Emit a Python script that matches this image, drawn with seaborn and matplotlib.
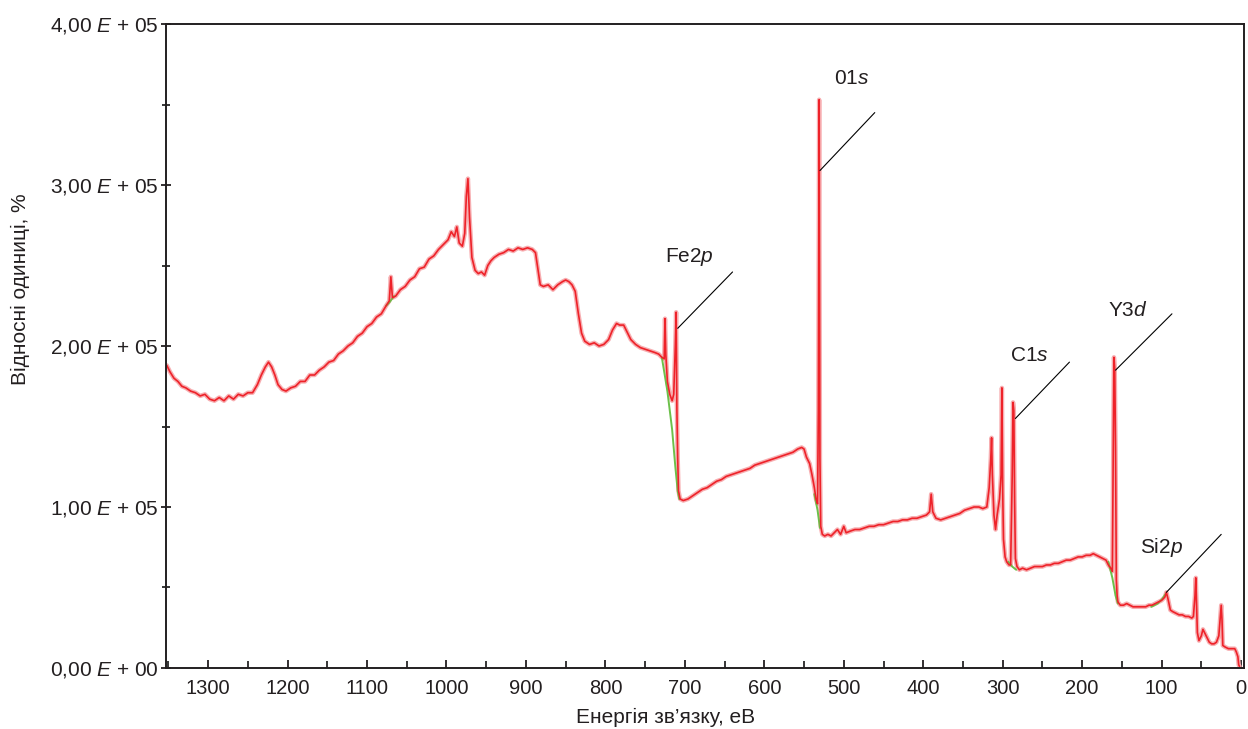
import numpy as np
import pandas as pd
import matplotlib
matplotlib.use("Agg")
import matplotlib.pyplot as plt
import seaborn as sns
from matplotlib.ticker import MultipleLocator, FuncFormatter

# ---------------------------------------------------------------------------
# XPS survey spectrum (energy, eV / counts x 1e5)
# ---------------------------------------------------------------------------
energy = [
    1352, 1348, 1343, 1338, 1333, 1328, 1322, 1316, 1310, 1304, 1298, 1292,
    1286, 1280, 1274, 1268, 1262, 1256, 1250, 1244, 1238, 1233, 1228, 1224,
    1220, 1216, 1212, 1207, 1202, 1196, 1190, 1184, 1178, 1172, 1166, 1160,
    1154, 1148, 1142, 1136, 1130, 1124, 1118, 1112, 1106, 1100, 1094, 1088,
    1082, 1076, 1072, 1070, 1068, 1064, 1058, 1052, 1046, 1040, 1034, 1028,
    1022, 1016, 1010, 1004, 998, 994, 990, 987, 984, 980, 977, 975, 973, 971,
    968, 964, 960, 956, 952, 948, 944, 940, 934, 928, 922, 916, 910, 904,
    898, 892, 888, 885, 882, 878, 872, 866, 860, 854, 850, 846, 842, 838,
    834, 830, 826, 820, 814, 808, 802, 796, 791, 786, 782, 777, 772, 768,
    762, 756, 750, 744, 738, 733, 729, 726, 725, 724, 722, 719, 716, 714,
    712, 711, 710, 709, 708, 706, 702, 696, 690, 684, 678, 672, 666, 660,
    654, 648, 642, 636, 630, 624, 618, 612, 606, 600, 594, 588, 582, 576,
    570, 564, 558, 553, 550, 547, 543, 540, 537, 535, 533, 532, 531, 530,
    529, 527, 524, 520, 516, 512, 508, 504, 500, 497, 492, 486, 480, 474,
    468, 462, 456, 450, 444, 438, 432, 426, 420, 414, 408, 402, 396, 392,
    390, 388, 384, 378, 372, 366, 360, 354, 348, 342, 336, 330, 325, 320,
    317, 315, 314, 313, 311, 309, 307, 304, 302, 301, 300, 299, 297, 295,
    292, 290, 288, 287, 286, 285, 284, 282, 279, 275, 270, 265, 260, 255,
    250, 245, 240, 235, 230, 225, 220, 215, 210, 205, 200, 195, 190, 186,
    182, 178, 174, 170, 167, 164, 162, 160, 159, 158, 157, 156, 155, 152,
    148, 144, 140, 136, 132, 128, 124, 120, 116, 112, 108, 104, 100, 96,
    94, 92, 89, 86, 82, 78, 74, 70, 66, 62, 60, 58, 57, 56, 55, 53, 50,
    48, 45, 42, 40, 37, 34, 31, 28, 26, 25, 24, 23, 20, 16, 12, 8, 6, 4,
    3, 2,
]
intensity = [
    1.88, 1.84, 1.80, 1.78, 1.75, 1.74, 1.72, 1.71, 1.69, 1.70, 1.67, 1.66,
    1.68, 1.66, 1.69, 1.67, 1.70, 1.69, 1.71, 1.71, 1.76, 1.82, 1.87, 1.90,
    1.87, 1.82, 1.76, 1.73, 1.72, 1.74, 1.75, 1.78, 1.78, 1.82, 1.82, 1.85,
    1.87, 1.90, 1.91, 1.95, 1.97, 2.00, 2.02, 2.06, 2.08, 2.12, 2.14, 2.18,
    2.20, 2.25, 2.28, 2.43, 2.30, 2.31, 2.35, 2.37, 2.41, 2.43, 2.48, 2.49,
    2.54, 2.56, 2.60, 2.63, 2.66, 2.71, 2.68, 2.74, 2.64, 2.62, 2.70, 2.93,
    3.04, 2.80, 2.55, 2.47, 2.45, 2.46, 2.44, 2.50, 2.53, 2.55, 2.57, 2.58,
    2.60, 2.59, 2.61, 2.60, 2.61, 2.60, 2.58, 2.48, 2.38, 2.37, 2.38, 2.35,
    2.38, 2.40, 2.41, 2.40, 2.38, 2.34, 2.20, 2.08, 2.03, 2.01, 2.02, 2.00,
    2.01, 2.04, 2.10, 2.14, 2.13, 2.13, 2.08, 2.04, 2.01, 1.99, 1.98, 1.97,
    1.96, 1.95, 1.93, 1.92, 2.17, 1.95, 1.78, 1.70, 1.66, 1.70, 2.00, 2.21,
    1.60, 1.30, 1.10, 1.05, 1.04, 1.05, 1.07, 1.09, 1.11, 1.12, 1.14, 1.16,
    1.17, 1.19, 1.20, 1.21, 1.22, 1.23, 1.24, 1.26, 1.27, 1.28, 1.29, 1.30,
    1.31, 1.32, 1.33, 1.34, 1.36, 1.37, 1.36, 1.31, 1.27, 1.20, 1.12, 1.05,
    1.02, 1.60, 3.53, 1.30, 0.88, 0.83, 0.82, 0.83, 0.82, 0.84, 0.86, 0.83,
    0.88, 0.84, 0.85, 0.86, 0.86, 0.87, 0.88, 0.88, 0.89, 0.89, 0.90, 0.91,
    0.91, 0.92, 0.92, 0.93, 0.93, 0.94, 0.95, 0.97, 1.08, 0.97, 0.93, 0.92,
    0.93, 0.94, 0.95, 0.96, 0.98, 0.99, 1.00, 1.00, 0.99, 1.00, 1.12, 1.30,
    1.43, 1.20, 0.95, 0.86, 0.95, 1.05, 1.20, 1.74, 1.10, 0.80, 0.69, 0.66,
    0.64, 0.64, 1.20, 1.65, 1.60, 1.04, 0.68, 0.63, 0.61, 0.62, 0.61, 0.62,
    0.63, 0.63, 0.63, 0.64, 0.64, 0.65, 0.65, 0.66, 0.67, 0.67, 0.68, 0.69,
    0.69, 0.70, 0.70, 0.71, 0.70, 0.69, 0.68, 0.67, 0.64, 0.62, 0.60, 1.93,
    1.86, 1.37, 0.55, 0.45, 0.41, 0.39, 0.39, 0.40, 0.39, 0.38, 0.38, 0.38,
    0.38, 0.38, 0.39, 0.39, 0.40, 0.41, 0.42, 0.44, 0.47, 0.43, 0.36, 0.35,
    0.34, 0.33, 0.33, 0.32, 0.32, 0.31, 0.32, 0.45, 0.56, 0.40, 0.22, 0.17,
    0.20, 0.24, 0.21, 0.18, 0.16, 0.15, 0.15, 0.16, 0.20, 0.33, 0.39, 0.30,
    0.14, 0.13, 0.12, 0.12, 0.12, 0.10, 0.07, 0.02, 0.01,
]

# green background-fit pieces under the main peaks
bg_energy = [
    [1076, 1072, 1066],
    [729, 722, 716, 712, 709, 707],
    [537, 533, 530],
    [293, 288, 283],
    [167, 162, 158, 155],
    [113, 105, 99, 95],
]
bg_intensity = [
    [2.25, 2.27, 2.31],
    [1.93, 1.72, 1.48, 1.25, 1.10, 1.05],
    [1.08, 0.98, 0.87],
    [0.66, 0.63, 0.61],
    [0.66, 0.56, 0.45, 0.40],
    [0.38, 0.40, 0.43, 0.46],
]

# peak labels with leader line start/end and text position (energy, counts x 1e5)
peak_labels = ["Fe2$p$", "01$s$", "C1$s$", "Y3$d$", "Si2$p$"]
peak_start = [(709, 2.11), (530, 3.09), (284, 1.55), (158, 1.85), (94, 0.47)]
peak_end = [(640, 2.46), (461, 3.45), (216, 1.90), (87, 2.20), (25, 0.83)]
peak_text = [(694, 2.55), (490, 3.66), (266, 1.94), (143, 2.22), (100, 0.75)]

SCALE = 1e5
INK = "#231f20"


def fmt_y(v, pos):
    mant = f"{v / SCALE:.2f}".replace(".", ",")
    exp = "00" if v == 0 else "05"
    return f"{mant} $E$ + {exp}"


sns.set_style("ticks")
plt.rcParams["font.family"] = ["Liberation Sans", "DejaVu Sans"]
plt.rcParams["mathtext.fontset"] = "custom"
plt.rcParams["mathtext.it"] = "Liberation Sans:italic"
plt.rcParams["mathtext.rm"] = "Liberation Sans"

df = pd.DataFrame({"energy": energy, "counts": np.array(intensity) * SCALE})

fig = plt.figure(figsize=(12.48, 7.29), dpi=100)
ax = fig.add_axes([0.133, 0.0837, 0.864, 0.8833])

# pale halo + red core
sns.lineplot(data=df, x="energy", y="counts", sort=False, estimator=None,
             color="#f7aeb1", lw=3.2, ax=ax)
for e, i in zip(bg_energy, bg_intensity):
    sns.lineplot(x=e, y=np.array(i) * SCALE, sort=False, estimator=None,
                 color="#6cc04a", lw=1.4, ax=ax)
sns.lineplot(data=df, x="energy", y="counts", sort=False, estimator=None,
             color="#ee2229", lw=1.2, ax=ax)

# peak annotations
for lab, s, e, t in zip(peak_labels, peak_start, peak_end, peak_text):
    ax.plot([s[0], e[0]], [s[1] * SCALE, e[1] * SCALE], color="black", lw=0.8)
    ax.text(t[0], t[1] * SCALE, lab, fontsize=15, ha="center", va="center",
            color=INK)

ax.set_xlim(1353, -4)
ax.set_ylim(0, 4 * SCALE)
ax.xaxis.set_major_locator(MultipleLocator(100))
ax.xaxis.set_minor_locator(MultipleLocator(50))
ax.yaxis.set_major_locator(MultipleLocator(SCALE))
ax.yaxis.set_minor_locator(MultipleLocator(SCALE / 2))
ax.yaxis.set_major_formatter(FuncFormatter(fmt_y))

ax.tick_params(axis="x", which="major", direction="in", length=6, width=1.3,
               labelsize=14.5, pad=8, colors=INK)
ax.tick_params(axis="x", which="minor", direction="in", length=5, width=1.3)
ax.tick_params(axis="y", which="major", direction="inout", length=7, width=1.3,
               labelsize=15, pad=2, colors=INK)
ax.tick_params(axis="y", which="minor", direction="inout", length=6, width=1.3)
for sp in ax.spines.values():
    sp.set_linewidth(1.4)
    sp.set_color(INK)

ax.set_xlabel("Енергія зв’язку, еВ", fontsize=15, color=INK)
ax.set_ylabel("Відносні одиниці, %", fontsize=15, color=INK)
ax.xaxis.set_label_coords(0.463, -0.062)
ax.yaxis.set_label_coords(-0.126, 0.589)

fig.savefig("out.png", dpi=100)
